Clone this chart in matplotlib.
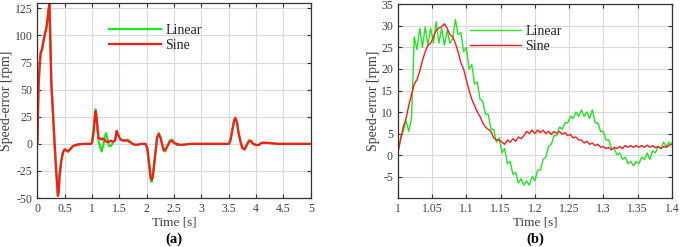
import matplotlib.pyplot as plt
from matplotlib.ticker import MultipleLocator, FuncFormatter

plt.rcParams['font.family'] = ['Liberation Serif', 'DejaVu Serif']

GREEN = '#22e622'
RED = '#ff1a1a'
TXT = '#404040'

# ---- panel (a): whole run, 0..5 s
t_a = [0, 0.02, 0.04, 0.06, 0.085, 0.1, 0.12, 0.14, 0.16, 0.18, 0.2, 0.22,
       0.255, 0.285, 0.315, 0.345, 0.375, 0.39, 0.405, 0.435, 0.467, 0.5,
       0.53, 0.56, 0.6, 0.65, 0.74, 0.85, 0.98, 1.0, 1.03, 1.05, 1.065, 1.08,
       1.1, 1.12, 1.15, 1.175, 1.2, 1.225, 1.255, 1.28, 1.31, 1.345, 1.38,
       1.42, 1.45, 1.48, 1.52, 1.56, 1.6, 1.65, 1.7, 1.74, 1.8, 1.9, 1.98,
       2.01, 2.04, 2.07, 2.09, 2.11, 2.15, 2.19, 2.22, 2.25, 2.28, 2.31, 2.34,
       2.38, 2.42, 2.46, 2.5, 2.55, 2.62, 2.8, 3.0, 3.2, 3.4, 3.5, 3.53, 3.57,
       3.6, 3.62, 3.65, 3.68, 3.72, 3.75, 3.79, 3.83, 3.87, 3.91, 3.95, 4.0,
       4.05, 4.1, 4.2, 4.4, 4.6, 4.8, 5.0]
sine_a = [0, 52, 72, 84, 87, 92, 97, 102, 106, 112, 122, 130,
          56, 28, 0, -26, -48, -44, -30, -16, -8, -5,
          -6, -7, -5, -2, -0.5, 0, 0, 1, 12, 24, 30, 26,
          14, 5, 5, 4, 5, 4, 2, 2, 2, 3, 2,
          3, 12, 8, 4, 3, 3, 3, 1.5, 0, -1, 0, 0,
          -4, -16, -30, -33, -30, -12, 6, 9, 6, 0, -6, -5,
          -2, 2, 3, 1, 0, -1, 0, 0, 0, 0, 0, 3, 14,
          22, 24, 20, 10, 1, -4, -5, -1, 3, 2, 0, -1,
          -1, 1, 1, 0, 0, 0, 0]
linear_a = [0, 52, 72, 84, 87, 92, 97, 102, 106, 112, 122, 130,
            56, 28, 0, -26, -48, -44, -30, -16, -8, -5,
            -6, -7, -5, -2, -0.5, 0, 0, 1, 14, 27, 32, 27,
            12, 2, -3, -7, -2, 5, 10, 5, -2, -2, 1,
            3, 12, 8, 4, 4, 3, 4, 2, 0, -1, 0, 0,
            -5, -18, -33, -35, -31, -13, 6, 10, 6, 0, -6, -7,
            -2, 3, 4, 1, -1, -1, 0, 0, 0, 0, 0, 3, 14,
            22, 24, 20, 10, 1, -4, -5, -1, 3, 3, 0, -1,
            -1, 1, 1, 0, 0, 0, 0]

# ---- panel (b): zoom 1.0..1.4 s, 4 ms steps
t_b = [round(1.0 + 0.004 * i, 3) for i in range(101)]
linear_b = [0.5, 4, 5.5, 8, 5.5, 8.5, 27.5, 24.5, 29.5, 25, 29.8, 25.5, 29.5, 26,
            31, 26, 29.5, 25.5, 29, 26, 27, 31.5, 28, 28.5, 24, 25, 20, 21,
            16.5, 17, 13, 12.5, 9.5, 9.5, 6, 6, 3, 4, 0.5, 1.5, -2, -1.5,
            -4.5, -4, -6.5, -5.5, -7, -6, -7, -5, -6, -3.5, -3.5, -1, -0.5, 2,
            2.5, 4.5, 4.5, 6.5, 6, 7.5, 7.5, 9, 8.5, 10, 9, 10.5, 9, 10,
            8.5, 10.5, 7.5, 7.5, 5.5, 5.5, 3.5, 3.5, 1.5, 1.5, 0, 0.5, -1, -0.5,
            -2, -1.5, -2.5, -1.5, -2, -0.5, -1, 0.5, -1, 1, 0.5, 2, 1.5, 3,
            2, 3, 2.5]
sine_b = [0.5, 3.5, 6.5, 8.5, 11.5, 14, 16.5, 17.5, 19.5, 22, 24, 25.5, 26,
          27.5, 29, 29.5, 29.8, 30.5, 29.5, 28, 27.5, 26, 24, 21.5, 20, 17.5,
          15, 13, 11.5, 10, 9, 7.5, 6.5, 6, 5.5, 4, 3.5, 3.5, 3, 2.5, 3.5, 3,
          3.8, 3.2, 4.2, 3.8, 4.5, 5.5, 5, 5.8, 5, 5.8, 5.2, 5.8, 5, 5.5, 4.8,
          5.5, 5, 5.5, 4.8, 5.2, 4.5, 4.8, 4, 4.2, 3.5, 3.5, 2.8, 3.2, 2.5,
          2.8, 2.2, 2.5, 1.8, 2, 1.5, 1.8, 1.2, 1.8, 1.5, 2, 1.5, 2.2, 1.8,
          2.2, 1.8, 2.2, 1.8, 2.2, 1.8, 2.3, 1.8, 2.2, 1.7, 2, 1.5, 2, 1.8,
          2.3, 2.5]


def style_axes(ax, tag):
    ax.grid(True, color='#d9d9d9', linewidth=0.8)
    ax.set_axisbelow(True)
    ax.tick_params(direction='in', top=True, right=True, length=3,
                   labelsize=8.5, labelcolor=TXT, color='#333333')
    for sp in ax.spines.values():
        sp.set_color('#333333')
        sp.set_linewidth(0.9)
    fmt = FuncFormatter(lambda v, p: '%g' % round(v, 3))
    ax.xaxis.set_major_formatter(fmt)
    ax.yaxis.set_major_formatter(fmt)
    ax.set_xlabel('Time [s]', fontsize=9.5, color=TXT, labelpad=1)
    ax.set_ylabel('Speed-error [rpm]', fontsize=10, color=TXT, labelpad=1)
    ax.text(0.5, -0.213, tag, transform=ax.transAxes, ha='center',
            va='center', fontsize=10.5, fontweight='bold')
    ax.legend(loc='upper left', bbox_to_anchor=(0.218, 0.958), frameon=False,
              fontsize=10, handlelength=3.7, handletextpad=0.3,
              labelspacing=0.15, labelcolor='#222222')


fig = plt.figure(figsize=(6.8, 2.47), dpi=100)
ax1 = fig.add_axes([0.055, 0.198, 0.402, 0.79])
ax2 = fig.add_axes([0.585, 0.198, 0.403, 0.784])

ax1.plot(t_a, linear_a, color=GREEN, lw=1.6, label='Linear')
ax1.plot(t_a, sine_a, color=RED, lw=1.6, label='Sine')
ax1.set_xlim(0, 5)
ax1.set_ylim(-50, 130)
ax1.xaxis.set_major_locator(MultipleLocator(0.5))
ax1.yaxis.set_major_locator(MultipleLocator(25))
style_axes(ax1, '(a)')

ax2.plot(t_b, linear_b, color=GREEN, lw=1.0, label='Linear')
ax2.plot(t_b, sine_b, color=RED, lw=1.0, label='Sine')
ax2.set_xlim(1, 1.4)
ax2.set_ylim(-10, 35)
ax2.xaxis.set_major_locator(MultipleLocator(0.05))
ax2.set_yticks(range(-5, 36, 5))
style_axes(ax2, '(b)')

fig.savefig('out.png', dpi=100)
